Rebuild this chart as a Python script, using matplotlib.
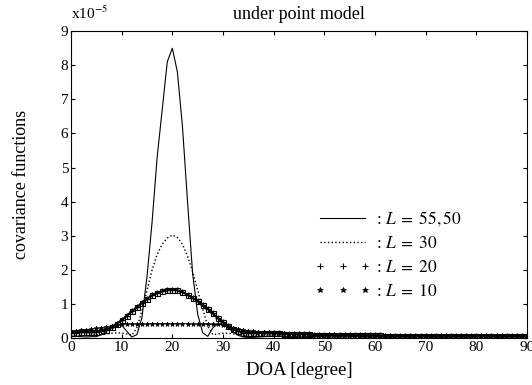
import matplotlib
matplotlib.use("Agg")
import matplotlib.pyplot as plt
from matplotlib.lines import Line2D
import numpy as np

plt.rcParams['font.family'] = ['Liberation Serif', 'DejaVu Serif']
plt.rcParams['mathtext.fontset'] = 'stix'

# DOA in degrees, one sample per degree
doa = np.arange(0, 91)

# covariance functions, in units of 1e-5
cov_L55 = [0.05, 0.05, 0.04, 0.03, 0.04, 0.04, 0.10, 0.20, 0.32, 0.40,
           0.38, 0.20, 0.03, 0.10, 0.60, 1.80, 3.40, 5.30, 6.70, 8.10,
           8.50, 7.80, 6.20, 4.00, 1.90, 0.70, 0.15, 0.05, 0.30, 0.42,
           0.40, 0.30, 0.18, 0.08, 0.03, 0.02, 0.02, 0.03, 0.04, 0.05,
           0.05, 0.05, 0.04, 0.04, 0.03, 0.03, 0.03, 0.04, 0.04, 0.04,
           0.03, 0.03, 0.03, 0.03, 0.04, 0.04, 0.04, 0.03, 0.03, 0.03,
           0.03, 0.03, 0.03, 0.03, 0.03, 0.03, 0.03, 0.03, 0.03, 0.03,
           0.03, 0.03, 0.03, 0.03, 0.03, 0.03, 0.03, 0.03, 0.03, 0.03,
           0.03, 0.03, 0.03, 0.03, 0.03, 0.03, 0.03, 0.03, 0.03, 0.03,
           0.03]
cov_L30 = [0.06, 0.06, 0.07, 0.07, 0.08, 0.09, 0.10, 0.12, 0.14, 0.15,
           0.15, 0.12, 0.08, 0.30, 0.80, 1.40, 2.00, 2.45, 2.75, 2.93,
           3.02, 2.95, 2.75, 2.40, 1.95, 1.40, 0.85, 0.35, 0.10, 0.12,
           0.14, 0.14, 0.12, 0.10, 0.08, 0.07, 0.06, 0.06, 0.06, 0.06,
           0.06, 0.06, 0.05, 0.05, 0.05, 0.05, 0.05, 0.05, 0.05, 0.05,
           0.05, 0.05, 0.05, 0.05, 0.05, 0.05, 0.05, 0.05, 0.05, 0.05,
           0.05, 0.05, 0.05, 0.05, 0.05, 0.05, 0.05, 0.05, 0.05, 0.05,
           0.05, 0.05, 0.05, 0.05, 0.05, 0.05, 0.05, 0.05, 0.05, 0.05,
           0.05, 0.05, 0.05, 0.05, 0.05, 0.05, 0.05, 0.05, 0.05, 0.05,
           0.05]
cov_L20 = [0.15, 0.16, 0.17, 0.17, 0.17, 0.17, 0.20, 0.25, 0.32, 0.42,
           0.52, 0.65, 0.78, 0.90, 1.03, 1.15, 1.25, 1.32, 1.37, 1.40,
           1.42, 1.40, 1.35, 1.27, 1.18, 1.08, 0.97, 0.85, 0.72, 0.58,
           0.46, 0.35, 0.26, 0.20, 0.16, 0.14, 0.14, 0.15, 0.15, 0.15,
           0.14, 0.14, 0.13, 0.13, 0.12, 0.12, 0.11, 0.11, 0.10, 0.10,
           0.10, 0.09, 0.09, 0.09, 0.09, 0.08, 0.08, 0.08, 0.08, 0.08,
           0.08, 0.08, 0.07, 0.07, 0.07, 0.07, 0.07, 0.07, 0.07, 0.07,
           0.07, 0.07, 0.07, 0.07, 0.07, 0.06, 0.06, 0.06, 0.06, 0.06,
           0.06, 0.06, 0.06, 0.06, 0.06, 0.06, 0.06, 0.06, 0.06, 0.06,
           0.06]
cov_L10 = [0.20, 0.22, 0.24, 0.25, 0.26, 0.28, 0.30, 0.33, 0.36, 0.38,
           0.40, 0.41, 0.41, 0.41, 0.41, 0.41, 0.42, 0.42, 0.42, 0.42,
           0.42, 0.42, 0.42, 0.42, 0.41, 0.41, 0.41, 0.41, 0.40, 0.40,
           0.38, 0.34, 0.30, 0.26, 0.23, 0.21, 0.20, 0.19, 0.18, 0.17,
           0.16, 0.15, 0.14, 0.13, 0.12, 0.12, 0.11, 0.11, 0.10, 0.10,
           0.10, 0.09, 0.09, 0.09, 0.08, 0.08, 0.08, 0.08, 0.07, 0.07,
           0.07, 0.07, 0.07, 0.07, 0.06, 0.06, 0.06, 0.06, 0.06, 0.06,
           0.06, 0.06, 0.06, 0.06, 0.05, 0.05, 0.05, 0.05, 0.05, 0.05,
           0.05, 0.05, 0.05, 0.05, 0.05, 0.05, 0.05, 0.05, 0.05, 0.05,
           0.05]

labels = [r": $L\;=\;55,50$", r": $L\;=\;30$", r": $L\;=\;20$", r": $L\;=\;10$"]

fig = plt.figure(figsize=(5.32, 3.85), dpi=100)
ax = fig.add_axes([0.1335, 0.122, 0.857, 0.797])

ax.plot(doa, cov_L55, '-', color='k', lw=0.8)
ax.plot(doa, cov_L30, ':', color='k', lw=1.0)
ax.plot(doa, cov_L20, '-', color='k', lw=0.8, marker='s', ms=3.6,
        mfc='none', mew=0.8)
ax.plot(doa, cov_L20, 'none', color='k', marker='+', ms=4.5, mew=0.9)
ax.plot(doa, cov_L10, '-', color='k', lw=0.6, marker='*', ms=3.5, mew=0.5)

ax.set_xlim(0, 90)
ax.set_ylim(0, 9)
ax.set_xticks(range(0, 91, 10))
ax.set_yticks(range(0, 10))
ax.tick_params(direction='in', top=True, right=True, length=3,
               labelsize=11, pad=2)
for s in ax.spines.values():
    s.set_linewidth(0.8)

ax.set_title("under point model", fontsize=13, pad=9)
ax.set_xlabel("DOA [degree]", fontsize=13.5, labelpad=6)
ax.set_ylabel("covariance functions", fontsize=13, labelpad=22)
ax.text(0.0, 1.03, r"x10$^{-5}$", transform=ax.transAxes,
        fontsize=11, ha='left', va='bottom')

handles = [Line2D([], [], ls='-', color='k', lw=0.8),
           Line2D([], [], ls=':', color='k', lw=1.0),
           Line2D([], [], ls='none', color='k', marker='+', ms=5, mew=0.8),
           Line2D([], [], ls='none', color='k', marker='*', ms=4, mew=0.5)]
ax.legend(handles, labels, loc='upper left', bbox_to_anchor=(0.535, 0.42),
          frameon=False, fontsize=12.5, handlelength=3.2, handletextpad=0.3,
          labelspacing=0.45, numpoints=3, borderpad=0, borderaxespad=0)

fig.savefig("out.png", dpi=100)
